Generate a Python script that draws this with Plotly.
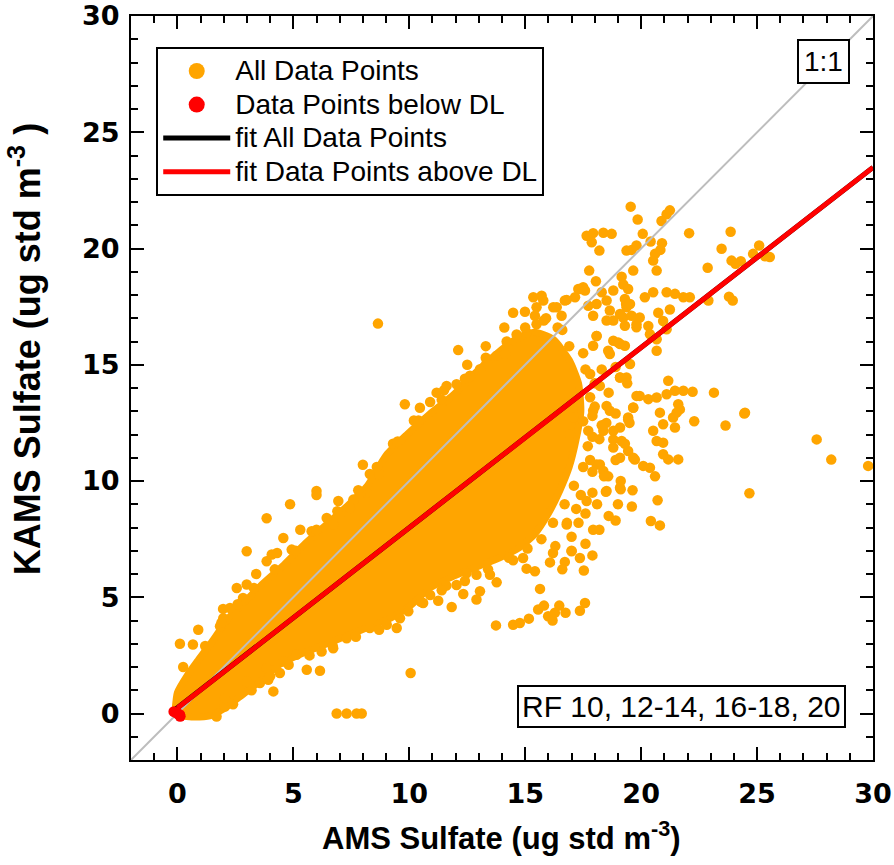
import plotly.graph_objects as go

# ---- data (ug std m-3) ----
# dense core of the "All Data Points" cloud (outline of the solid orange region)
core_x = [-0.1, 0.0, 0.4, 0.9, 1.5, 2.2, 2.9, 3.7, 4.6, 5.5, 6.4, 7.3, 8.2, 9.0, 9.9, 10.9, 11.9, 12.9, 13.8, 14.6, 15.4,
          16.2, 16.9, 17.3, 17.4, 17.2, 16.9, 16.5, 16.0, 15.4, 14.7,
          13.9, 12.9, 11.9, 10.9, 10.0, 9.2, 8.2, 7.2, 6.2, 5.2, 4.4, 3.7, 2.8, 2.0, 1.4, 0.6, 0.0]
core_y = [0.1, 0.9, 1.6, 2.3, 3.1, 4.1, 4.8, 5.6, 6.4, 7.3, 8.1, 8.9, 9.8, 11.1, 12.0, 12.9, 13.7, 14.7, 15.5, 16.1, 16.4,
          16.1, 15.2, 14.2, 13.0, 11.8, 10.6, 9.6, 8.6, 7.7, 7.1,
          6.7, 6.3, 5.9, 5.4, 4.6, 4.1, 3.7, 3.3, 2.9, 2.5, 2.1, 1.5, 0.8, 0.2, -0.1, -0.15, -0.1]

# individual points outside / on the edge of the dense core
pts_x = [0.11, 0.25, 0.9, 0.67, 1.97, 2.56, 2.99, 2.99, 3.85, 3.85, 4.07, 4.57, 4.86, 4.93, 6.0, 6.0, 6.94, 7.59, 8.0, 8.3,
         8.16, 1.84, 1.98, 2.27, 2.83, 6.44, 5.79, 6.72, 7.44,
         1.69, 2.05, 2.05, 2.99, 3.56, 3.92, 4.14, 4.42, 3.85, 5.58, 6.15, 6.22, 6.87, 7.3, 7.73, 7.95, 6.72, 7.3, 8.3, 9.03,
         9.46, 4.57, 5.14,
         9.96, 10.06, 10.6, 11.25, 11.83, 12.33, 12.9, 13.05, 13.77, 13.48, 13.74, 14.48, 14.77, 15.16, 15.56, 15.81, 15.64,
         15.99, 16.18, 16.28, 16.47, 16.74, 17.36, 17.58, 17.0, 17.36, 17.53, 16.71, 15.06, 15.42, 16.07, 14.48, 14.91,
         12.04, 12.47, 12.9, 10.9, 11.6,
         19.55, 19.85, 21.24, 21.1, 20.88, 22.07, 23.86, 23.47, 25.09, 24.83, 25.55, 25.34, 23.9, 24.3, 24.07, 22.87, 22.9,
         23.79, 23.95, 22.1, 17.65, 17.93, 18.37, 18.73, 17.87, 18.2, 20.07, 20.41, 19.37, 19.59, 19.8, 20.9, 20.83, 20.6,
         20.52, 20.67, 19.66, 17.76, 18.05, 19.16, 19.23, 19.44, 18.8, 19.3, 19.35, 17.29, 17.5, 17.15, 16.71, 18.3, 18.51,
         18.08, 17.72, 20.16, 20.52, 21.1, 21.46, 21.82, 20.74, 21.24, 20.95, 21.1, 19.94, 19.8, 20.31, 20.38, 20.67, 20.67,
         18.65, 18.8, 19.23, 19.37, 19.59, 18.08, 17.93, 18.58, 19.01, 19.3, 19.52, 19.09, 21.17, 19.94, 20.31, 20.67, 21.1,
         21.46, 21.82, 22.22, 23.14, 21.6, 21.67, 21.53, 21.38, 24.48, 22.29, 23.64, 20.81, 20.95, 21.46, 20.52, 20.67, 20.95,
         27.57, 19.66, 19.44, 19.09, 18.51, 18.65, 18.37, 18.8, 19.16, 17.93, 17.5, 17.72, 16.78, 17.07, 16.93,
         28.2, 29.79, 24.67, 24.45, 20.71, 20.42, 20.81, 19.63, 19.12, 19.12, 18.48, 20.6, 20.38, 20.09, 19.73, 19.44, 21.6,
         21.17, 20.95, 18.58, 18.37, 18.22,
         8.65, 12.11, 9.81, 10.46, 11.18, 11.61, 12.04, 12.62, 13.05, 13.34, 13.77, 14.13, 14.48, 14.99, 14.63, 15.06, 15.49,
         15.78, 16.21, 16.57, 17.93, 18.51, 19.09, 19.52, 19.3, 19.8, 18.8, 18.08, 18.65, 19.09, 19.66, 19.8, 19.44, 19.09,
         19.37, 18.22, 18.8, 19.09, 19.66, 19.09, 18.51, 17.93, 16.79, 17.65, 18.08, 18.8,
         15.35, 15.71, 15.49, 15.42, 16.36, 16.79, 17.36, 17.58,
         18.5, 18.2, 17.8, 18.4, 17.9, 17.2, 16.8, 16.3, 17.0, 17.6, 18.2, 18.6, 19.0, 17.3, 16.2,
         17.6, 17.8, 17.9, 17.7, 17.5, 17.1, 16.7, 16.2, 15.7, 16.9, 16.4, 15.9, 17.5, 18.0, 17.3, 17.9, 17.4,
         9.3, 10.2, 10.9, 11.5, 12.5, 13.3, 14.1, 8.7, 7.9, 7.0, 5.3, 4.3, 3.4,
         1.2, 1.9, 2.6, 3.3, 4.2, 5.1, 6.0, 6.9, 7.8, 8.6, 9.5, 10.4, 11.4, 12.4, 13.3, 14.2, 15.0, 15.8, 16.6,
         2.4, 3.2, 4.0, 4.8, 5.7, 6.7, 7.7, 8.7, 9.6, 10.5, 11.4, 12.4, 13.4, 14.3, 15.1,
         17.8, 18.3, 18.9, 19.4, 18.6, 18.0, 18.9, 19.5, 18.3, 17.9, 18.9, 19.3, 18.1, 17.6, 18.9, 19.6, 17.0, 16.6, 17.9]
pts_y = [3.0, 2.0, 3.6, 2.97, 4.5, 5.4, 6.98, 5.55, 8.4, 6.55, 6.84, 7.55, 9.0, 7.05, 9.57, 9.4, 9.14, 9.2, 10.7, 10.3,
         9.5, 3.75, 4.1, 4.54, 4.97, 8.41, 7.84, 8.13, 8.84,
         -0.13, 0.3, 0.66, 1.38, 1.31, 1.45, 0.95, 1.74, 1.95, 1.88, 1.84, 2.67, 0.0, 0.0, 0.0, 0.0, 2.81, 3.24, 3.68, 3.82,
         3.68, 2.24, 2.53,
         4.4, 1.74, 4.75, 4.85, 4.58, 5.14, 4.9, 5.26, 5.64, 5.97, 3.79, 3.82, 3.89, 4.08, 4.47, 4.64, 5.36,
         4.18, 4.0, 4.33, 4.64, 4.33, 4.42, 4.75, 6.98, 6.69, 6.15, 6.52, 6.23, 6.12, 6.5, 6.59, 6.69,
         5.53, 6.03, 5.97, 5.1, 5.5,
         21.8, 21.25, 21.64, 21.47, 21.18, 20.66, 20.72, 19.99, 20.13, 19.77, 19.63, 19.67, 19.48, 19.45, 19.34, 19.17, 17.76,
         17.93, 17.76, 17.9, 20.55, 20.66, 20.68, 20.63, 20.27, 19.91, 20.63, 20.3, 19.91, 19.94, 20.13, 20.23, 19.94, 19.77,
         19.48, 19.05, 19.05, 19.05, 18.59, 18.79, 18.45, 18.26, 18.19, 17.83, 17.61, 18.26, 18.33, 17.9, 17.76, 18.12, 17.76,
         17.61, 17.54, 17.9, 18.12, 18.12, 18.05, 17.9, 17.24, 17.38, 16.88, 16.53, 17.03, 16.74, 16.67, 16.31, 16.1, 15.6,
         17.33, 16.9, 17.03, 17.47, 17.11, 16.24, 15.82, 15.6, 15.96, 15.82, 15.03, 14.45, 14.31, 13.66, 13.52, 13.59, 13.73,
         13.88, 13.88, 13.84, 13.8, 13.3, 13.08, 12.94, 12.73, 12.94, 12.57, 12.39, 12.94, 12.44, 12.3, 12.16, 11.72, 11.65,
         11.79, 13.15, 12.65, 12.3, 13.23, 13.02, 12.16, 11.79, 11.72, 13.02, 12.57, 12.16, 13.3, 12.73, 12.0,
         10.92, 10.65, 9.47, 12.9, 9.17, 8.28, 8.09, 9.6, 9.64, 10.0, 9.54, 10.2, 10.57, 10.65, 10.92, 11.29, 10.93,
         10.93, 11.15, 10.2, 10.43, 10.71,
         16.77, 15.63, 13.3, 13.15, 13.8, 14.09, 14.16, 14.53, 14.81, 15.1, 15.39, 15.46, 17.24, 17.28, 16.3, 16.38, 16.74,
         17.76, 17.47, 17.11, 17.11, 16.9, 17.18, 17.61, 16.68, 16.61, 16.03, 16.24, 15.46, 15.89, 13.16, 13.66, 12.73, 14.45,
         14.45, 14.09, 11.44, 11.0, 11.0, 9.71, 9.57, 7.9, 8.13, 9.14, 10.71, 12.16,
         17.9, 17.97, 17.47, 17.11, 17.47, 17.79, 18.26, 18.19,
         12.5, 11.8, 10.9, 10.2, 9.5, 8.8, 8.2, 7.2, 7.6, 7.3, 7.9, 8.5, 9.0, 8.2, 6.9,
         14.8, 13.6, 12.8, 11.5, 10.6, 9.8, 9.0, 8.2, 7.5, 15.8, 16.6, 17.0, 15.5, 14.2, 13.3, 11.9, 9.4,
         11.6, 12.6, 13.4, 13.9, 15.0, 15.8, 16.6, 10.3, 9.5, 8.6, 7.9, 6.9, 6.0,
         2.9, 3.9, 4.7, 5.4, 6.2, 7.0, 7.9, 8.7, 9.6, 10.6, 11.7, 12.6, 13.5, 14.4, 15.3, 16.0, 16.6, 16.9, 16.5,
         0.4, 1.0, 1.6, 2.1, 2.5, 2.9, 3.3, 3.6, 4.1, 4.8, 5.3, 5.7, 6.2, 6.7, 7.1,
         14.6, 14.8, 14.9, 14.2, 13.8, 13.2, 12.9, 12.5, 12.4, 10.4, 10.9, 11.6, 9.0, 8.6, 8.3, 8.9, 7.0, 6.2, 6.8]

# points below detection limit
dl_x = [-0.15, 0.0, 0.1, 0.12]
dl_y = [0.08, 0.0, -0.05, -0.12]

# fit lines and 1:1 line
one_x = [-2, 30]
one_y = [-2, 30]
fit_all_x = [-0.12, 30]
fit_all_y = [0.15, 23.49]
fit_dl_x = [0.0, 30]
fit_dl_y = [0.24, 23.49]

ORANGE = "#FFA500"
RED = "#FF0000"

fig = go.Figure()
fig.add_trace(go.Scatter(x=core_x, y=core_y, mode="lines", fill="toself", fillcolor=ORANGE,
                         line=dict(color=ORANGE, width=7, shape="spline", smoothing=0.6), hoverinfo="skip",
                         showlegend=False))
fig.add_trace(go.Scatter(x=pts_x, y=pts_y, mode="markers", marker=dict(color=ORANGE, size=10.5, line=dict(width=0)),
                         showlegend=False))
fig.add_trace(go.Scatter(x=one_x, y=one_y, mode="lines", line=dict(color="#BDBDBD", width=2), showlegend=False))
fig.add_trace(go.Scatter(x=fit_all_x, y=fit_all_y, mode="lines", line=dict(color="black", width=5), showlegend=False))
fig.add_trace(go.Scatter(x=fit_dl_x, y=fit_dl_y, mode="lines", line=dict(color=RED, width=5), showlegend=False))
fig.add_trace(go.Scatter(x=dl_x, y=dl_y, mode="markers", marker=dict(color=RED, size=11), showlegend=False))

# legend entries
LEG = "<span style='font-size:28px'>%s</span>"
fig.add_trace(go.Scatter(x=[None], y=[None], mode="markers", name=LEG % "All Data Points",
                         marker=dict(color=ORANGE, size=16)))
fig.add_trace(go.Scatter(x=[None], y=[None], mode="markers", name=LEG % "Data Points below DL",
                         marker=dict(color=RED, size=16)))
fig.add_trace(go.Scatter(x=[None], y=[None], mode="lines", name=LEG % "fit All Data Points",
                         line=dict(color="black", width=5)))
fig.add_trace(go.Scatter(x=[None], y=[None], mode="lines", name=LEG % "fit Data Points above DL",
                         line=dict(color=RED, width=5)))

tickfont = dict(family="DejaVu Sans", size=27, color="black", weight="bold")
axis_common = dict(range=[-2, 30], tick0=0, dtick=5, ticks="inside", ticklen=13, tickwidth=2, tickcolor="black",
                   showline=True, linewidth=2, linecolor="black", mirror="ticks", showgrid=False, zeroline=False,
                   tickfont=tickfont, automargin=False, ticklabeloverflow="allow",
                   minor=dict(ticks="inside", ticklen=7, tickwidth=2, tickcolor="black", dtick=1, showgrid=False))

fig.update_layout(
    width=894, height=865,
    margin=dict(l=131, r=21, t=16, b=105),
    plot_bgcolor="white", paper_bgcolor="white",
    xaxis=dict(**axis_common, ticklabelstandoff=9),
    yaxis=dict(**axis_common, ticklabelstandoff=4),
    showlegend=True,
    legend=dict(x=0.034, y=0.958, xanchor="left", yanchor="top", bgcolor="white", bordercolor="black",
                borderwidth=2, font=dict(family="Liberation Sans, Arial", size=23.5, color="black"),
                tracegroupgap=0, itemwidth=67),
    annotations=[
        dict(x=27.86, y=28.05, xref="x", yref="y", text="1:1", showarrow=False,
             font=dict(family="Liberation Sans, Arial", size=28, color="black"),
             bgcolor="white", bordercolor="black", borderwidth=2, borderpad=5),
        dict(x=21.74, y=0.28, xref="x", yref="y", text="RF 10, 12-14, 16-18, 20", showarrow=False,
             font=dict(family="Liberation Sans, Arial", size=30, color="black"),
             bgcolor="white", bordercolor="black", borderwidth=2, borderpad=3),
        dict(x=0.4995, y=-0.102, xref="paper", yref="paper", text="AMS Sulfate (ug std m<sup>-3</sup>)",
             showarrow=False, font=dict(family="Liberation Sans, Arial", size=31, color="black", weight="bold"),
             xanchor="center", yanchor="middle"),
        dict(x=-0.1429, y=0.552, xref="paper", yref="paper", text="KAMS Sulfate (ug std m<sup>-3</sup> )",
             showarrow=False, textangle=-90,
             font=dict(family="Liberation Sans, Arial", size=36, color="black", weight="bold"),
             xanchor="center", yanchor="middle"),
    ],
)

fig.write_html("out.html")
